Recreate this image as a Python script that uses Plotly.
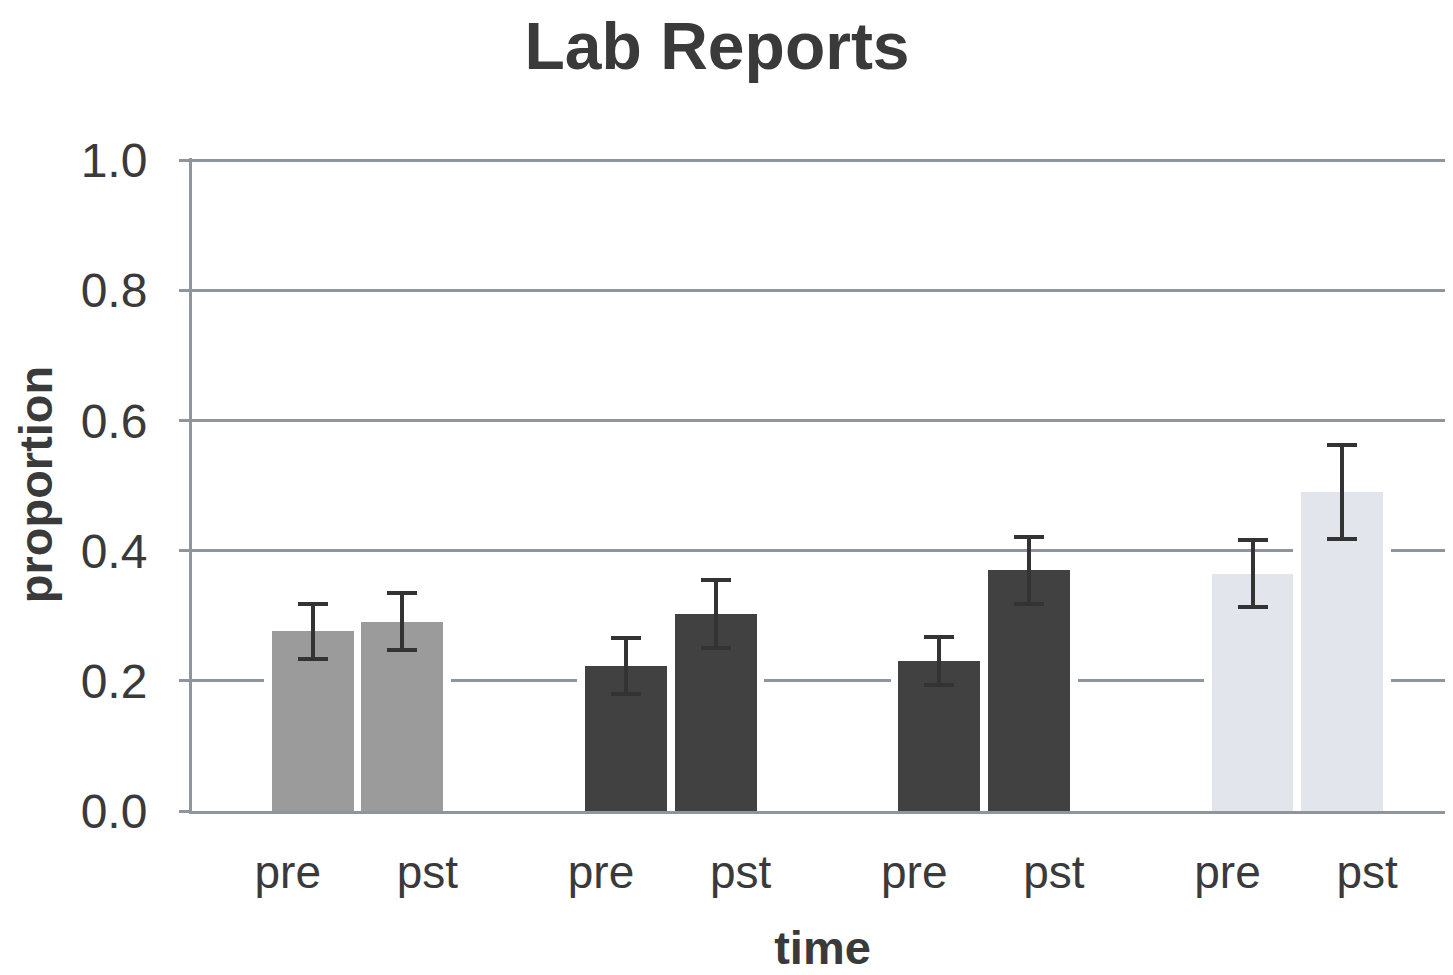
import plotly.graph_objects as go

# ---- data ----
groups = ["A", "B", "C", "D"]            # four unlabeled groups
times = ["pre", "pst"]
pre_vals = [0.276, 0.223, 0.231, 0.365]
pst_vals = [0.291, 0.303, 0.370, 0.490]
pre_err = [0.043, 0.043, 0.037, 0.052]
pst_err = [0.044, 0.052, 0.052, 0.072]
group_colors = ["#9b9b9b", "#414141", "#414141", "#e3e5ed"]
y_ticks = [0.0, 0.2, 0.4, 0.6, 0.8, 1.0]

# ---- layout helpers ----
GROUP_STEP = 3.5
LABEL_SHIFT = 0.28
HALO_PAD = 0.012      # white halo above each bar that hides gridlines

xs, ys, errs, cols = [], [], [], []
tickvals, ticktext = [], []
for g, _ in enumerate(groups):
    for s, (vals, ev) in enumerate([(pre_vals, pre_err), (pst_vals, pst_err)]):
        xpos = g * GROUP_STEP + s
        xs.append(xpos)
        ys.append(vals[g])
        errs.append(ev[g])
        cols.append(group_colors[g])
        tickvals.append(xpos + (-LABEL_SHIFT if s == 0 else LABEL_SHIFT))
        ticktext.append(times[s])

TEXT = "#3a3a3a"
GRID = "#8e959d"
FONT = "Liberation Sans, Arial, sans-serif"

fig = go.Figure()
# white halo behind bars (breaks the gridlines around the bars)
fig.add_trace(go.Bar(
    x=xs, y=[v + HALO_PAD for v in ys], width=[1.09] * len(xs),
    marker=dict(color="white", line=dict(width=0)),
    showlegend=False, hoverinfo="skip",
))
fig.add_trace(go.Bar(
    x=xs, y=ys, width=[0.915] * len(xs),
    marker=dict(color=cols, line=dict(width=0)),
    error_y=dict(type="data", array=errs, visible=True,
                 color="#333333", thickness=4, width=15),
    showlegend=False, hoverinfo="skip",
))

# page body has an 8px margin, so the figure is 8px smaller than the window
fig.update_layout(
    width=1445, height=967,
    margin=dict(l=184, r=0, t=150, b=164),
    paper_bgcolor="white", plot_bgcolor="white",
    font=dict(family=FONT, color=TEXT),
    title=dict(text="Lab Reports", x=0.4907, xanchor="center",
               y=1 - 38 / 967, yanchor="middle", yref="container",
               font=dict(size=66, weight="bold", color=TEXT, family=FONT)),
    barmode="overlay", bargap=0,
)
fig.update_xaxes(
    range=[-1.35, 12.74], automargin=False,
    tickvals=tickvals, ticktext=ticktext,
    tickfont=dict(size=46, color=TEXT),
    ticks="", ticklabelstandoff=19,
    showline=True, linecolor=GRID, linewidth=3,
    showgrid=False, zeroline=False,
    title=dict(text="time", font=dict(size=47, weight="bold", color=TEXT), standoff=34),
)
fig.update_yaxes(
    range=[0, 1.004], automargin=False,
    tickvals=y_ticks, ticktext=[f"{v:.1f}" for v in y_ticks],
    tickfont=dict(size=48, color=TEXT),
    ticks="outside", ticklen=10, tickwidth=3, tickcolor=GRID,
    ticklabelstandoff=22,
    showline=True, linecolor=GRID, linewidth=3,
    showgrid=True, gridcolor=GRID, gridwidth=3,
    zeroline=False,
    title=dict(text="proportion", font=dict(size=47, weight="bold", color=TEXT), standoff=14),
)

fig.write_html("out.html")
